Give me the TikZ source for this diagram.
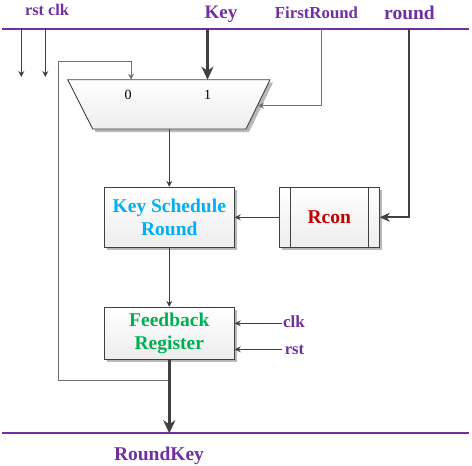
\documentclass[tikz,border=0pt]{standalone}
\usepackage{fontspec}
\setmainfont{Liberation Serif}
\usetikzlibrary{arrows.meta,shadows}
\definecolor{pur}{HTML}{7030A0}
\definecolor{cyn}{HTML}{00B0F0}
\definecolor{rd}{HTML}{C00000}
\definecolor{grn}{HTML}{00B050}
\definecolor{wire}{HTML}{404040}
\definecolor{fbk}{HTML}{707070}
\tikzset{
  bus/.style={pur, line width=1.8pt},
  sig/.style={wire, line width=0.9pt, -{Stealth[length=6pt,width=6pt,inset=2pt]}},
  fsig/.style={fbk, line width=0.9pt, -{Stealth[length=6pt,width=6pt,inset=2pt]}},
  big/.style={wire, line width=3pt, -{Stealth[length=13pt,width=12pt,inset=4pt]}},
  mid/.style={wire, line width=2pt, -{Stealth[length=10pt,width=9pt,inset=3pt]}},
  blk/.style={draw=wire, line width=0.9pt, top color=white, bottom color=black!7,
     drop shadow={shadow xshift=3pt, shadow yshift=-3pt, fill=black!28, opacity=1},
     align=center, inner sep=0pt, font=\fontsize{19.5}{23.3}\selectfont\bfseries},
  lab/.style={pur, font=\fontsize{#1}{#1}\selectfont\bfseries, anchor=base, inner sep=0pt},
}
\begin{document}
\begin{tikzpicture}[x=1pt,y=-1pt]
\useasboundingbox (0,0) rectangle (472,466);
% buses
\coordinate (tl) at (2,29.3); \coordinate (tr) at (469,29.3);
\coordinate (bl) at (2,433.3); \coordinate (br) at (469,433.3);
\draw[bus] (tl) -- (tr);
\draw[bus] (bl) -- (br);
% labels
\node[lab=16.3] (rstclk) at (47,15) {rst clk};
\node[lab=19] (key) at (221,18.5) {Key};
\node[lab=16.8] (first) at (316.5,18.3) {FirstRound};
\node[lab=19.5] (round) at (409.5,19) {round};
\node[lab=19.5] (rk) at (159,460) {RoundKey};
% mux
\coordinate (m1) at (67.7,79.7); \coordinate (m2) at (270,79.7);
\coordinate (m3) at (246,129); \coordinate (m4) at (92.7,129);
\fill[black!28] ([shift={(3,3)}]m1) -- ([shift={(3,3)}]m2) -- ([shift={(3,3)}]m3) -- ([shift={(3,3)}]m4) -- cycle;
\draw[wire, line width=0.9pt, top color=white, bottom color=black!7] (m1) -- (m2) -- (m3) -- (m4) -- cycle;
\node[font=\fontsize{14}{14}\selectfont, anchor=base, inner sep=0pt] (zero) at (128,99.3) {0};
\node[font=\fontsize{14}{14}\selectfont, anchor=base, inner sep=0pt] (one) at (207.5,99.3) {1};
\coordinate (min0) at (131,79.7);
\coordinate (min1) at (207.5,79.7);
\coordinate (msel) at (258,105.7);
\coordinate (mout) at (169.3,129);
% boxes
\node[blk, minimum width=130pt, minimum height=60pt, text=cyn] (ksr) at (169.3,217.3) {Key Schedule\\Round};
\node[blk, minimum width=100pt, minimum height=60pt, text=rd] (rcon) at (329.3,217.3) {Rcon};
\draw[wire, line width=0.9pt] ([xshift=11.7pt]rcon.north west) -- ([xshift=11.7pt]rcon.south west);
\draw[wire, line width=0.9pt] ([xshift=-11.7pt]rcon.north east) -- ([xshift=-11.7pt]rcon.south east);
\node[blk, minimum width=130pt, minimum height=52pt, text=grn] (fr) at (169.3,333.3) {Feedback\\Register};
% clock / reset labels at right
\node[lab=17] (clk) at (294,327.7) {clk};
\node[lab=16.5] (rst) at (294.5,354) {rst};
% top rst/clk drops
\coordinate (rstT) at (21.3,29.3); \coordinate (rstE) at (21.3,77);
\coordinate (clkT) at (45.3,29.3); \coordinate (clkE) at (45.3,77);
\draw[sig] (rstT) -- (rstE);
\draw[sig] (clkT) -- (clkE);
% key
\draw[big] (min1 |- tl) -- (min1);
% first round
\draw[fsig] (321,29.3) |- (msel);
% round
\draw[mid] (409.3,29.3) |- (rcon.east);
% mux -> ksr
\draw[sig] (mout) -- (ksr.north);
% rcon -> ksr
\draw[sig] (rcon.west) -- (ksr.east);
% ksr -> fr
\draw[sig] (ksr.south) -- (fr.north);
% clk/rst -> fr
\draw[sig] (281.7,323.3) -- (fr.east |- 0,323.3);
\draw[sig] (281.7,349.3) -- (fr.east |- 0,349.3);
% feedback
\draw[fsig] (169.3,380) -- (58.7,380) -- (58.7,61.7) -- (131,61.7) -- (min0);
% output
\draw[big] (fr.south) -- (fr.south |- bl);
\end{tikzpicture}
\end{document}
